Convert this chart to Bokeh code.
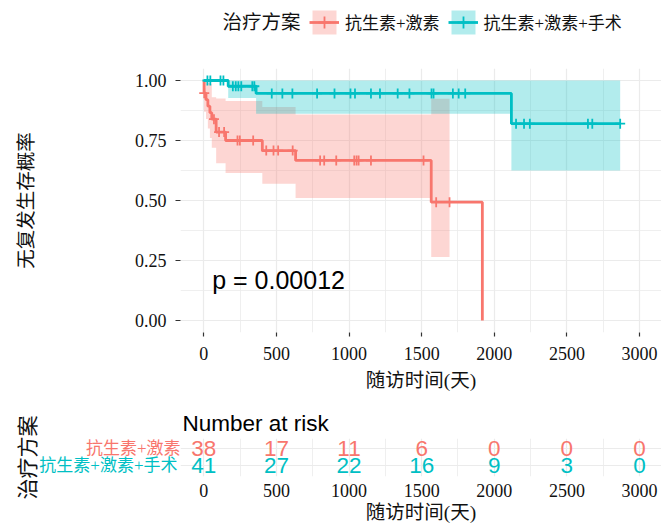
import numpy as np
from bokeh.plotting import figure
from bokeh.models import (Range1d, FixedTicker, Legend, LegendItem, Label, NumeralTickFormatter,
                          LinearAxis)
from bokeh.layouts import column
from bokeh.embed import file_html
from bokeh.resources import INLINE
from bokeh.core.properties import value

# ---------------- data ----------------
groups = ["抗生素+激素", "抗生素+激素+手术"]
group_colors = ["#F8766D", "#00BFC4"]
legend_title = "治疗方案"
y_title = "无复发生存概率"
x_title = "随访时间(天)"
pval_text = "p = 0.00012"

# group 1: 抗生素+激素 (KM steps)
g1_time = [0, 2, 15, 28, 42, 55, 85, 150, 403, 632, 1566, 1918]
g1_surv = [1.0, 0.947, 0.920, 0.893, 0.866, 0.839, 0.785, 0.750, 0.708, 0.667, 0.493, 0.0]
g1_ci_time = [0, 2, 15, 28, 42, 55, 85, 150, 403, 632, 1566]
g1_ci_lower = [1.0, 0.870, 0.840, 0.800, 0.760, 0.720, 0.655, 0.615, 0.570, 0.510, 0.265]
g1_ci_upper = [1.0, 1.0, 1.0, 0.990, 0.985, 0.930, 0.925, 0.915, 0.890, 0.858, 0.924]
g1_ci_end = 1692
g1_censor = [3, 70, 105, 140, 232, 248, 340, 430, 480, 512, 612, 801, 829, 912,
             1036, 1052, 1066, 1151, 1513, 1600, 1692]

# group 2: 抗生素+激素+手术
g2_time = [0, 168, 360, 2118]
g2_surv = [1.0, 0.976, 0.946, 0.820]
g2_ci_lower = [1.0, 0.927, 0.861, 0.625]
g2_ci_upper = [1.0, 1.0, 1.0, 1.0]
g2_end = 2867
g2_censor = [25, 45, 115, 135, 200, 220, 238, 258, 334, 348, 468, 541, 610, 780, 900,
             1010, 1041, 1151, 1213, 1335, 1416, 1568, 1582, 1715, 1755, 1800,
             2150, 2205, 2245, 2645, 2675, 2867]

# number at risk
risk_time = [0, 500, 1000, 1500, 2000, 2500, 3000]
g1_risk = [38, 17, 11, 6, 0, 0, 0]
g2_risk = [41, 27, 22, 16, 9, 3, 0]
risk_title = "Number at risk"

x_ticks = [0, 500, 1000, 1500, 2000, 2500, 3000]
x_minor = [250, 750, 1250, 1750, 2250, 2750]
y_ticks = [0.0, 0.25, 0.5, 0.75, 1.0]
y_minor = [0.125, 0.375, 0.625, 0.875]

# ---------------- styling ----------------
SERIF = "Liberation Serif, Noto Sans CJK SC"
SANS = "Liberation Sans"
GRID = "#EBEBEB"
TXT = "#111111"
W = 661
PX_PER_DAY = 0.14523
ZERO_PX = 203.3
PANEL_LEFT_PX = 180
X_END = (W - ZERO_PX) / PX_PER_DAY
X_PANEL_START = (PANEL_LEFT_PX - ZERO_PX) / PX_PER_DAY
LW = 2.8


def surv_at(times, survs, t):
    i = np.searchsorted(np.asarray(times), t, side="right") - 1
    return survs[i]


def style_grid(fig):
    for g in (fig.xgrid[0], fig.ygrid[0]):
        g.grid_line_color = GRID
        g.grid_line_width = 1.2
        g.minor_grid_line_color = GRID
        g.minor_grid_line_width = 0.8


def plain_axis(ax):
    ax.axis_line_color = None
    ax.major_tick_in = 0
    ax.minor_tick_in = 0
    ax.minor_tick_out = 0
    ax.major_label_text_color = TXT
    ax.axis_label_text_font = SERIF
    ax.axis_label_text_font_size = "19.5px"
    ax.axis_label_text_font_style = "normal"
    ax.axis_label_text_color = TXT


# ---------------- legend strip ----------------
lg = figure(width=W, height=46, output_backend="svg", toolbar_location=None,
            x_range=Range1d(PANEL_LEFT_PX, W), y_range=Range1d(0, 46),
            min_border_left=PANEL_LEFT_PX, min_border_right=0, min_border_top=0,
            min_border_bottom=0)
lg.xaxis.visible = False
lg.yaxis.visible = False
lg.xgrid.visible = False
lg.ygrid.visible = False
lg.outline_line_color = None
items = []
for name, col in zip(groups, group_colors):
    # key glyphs only (placed outside the visible range, shown through the legend)
    rb = lg.varea_step(x=[-50, -40], y1=[0, 0], y2=[1, 1], step_mode="after",
                       fill_color=col, fill_alpha=0.3)
    rl = lg.line(x=[-50, -40], y=[0, 0], line_color=col, line_width=LW)
    rc = lg.scatter(x=[-50], y=[0], marker="cross", size=10, line_color=col, line_width=1.8)
    items.append(LegendItem(label=name, renderers=[rb, rl, rc]))
legend = Legend(items=items, orientation="horizontal", location=(309 - PANEL_LEFT_PX, 9.5),
                glyph_width=30, glyph_height=30, label_height=30, label_standoff=6,
                spacing=8, padding=0, margin=0, border_line_color=None,
                background_fill_alpha=0, label_text_font=SERIF,
                label_text_font_size="17px", label_text_color=TXT)
lg.add_layout(legend)
lg.add_layout(Label(x=222, y=24, text=legend_title, text_font=SERIF, text_font_size="19.5px",
                    text_color=TXT, text_baseline="middle", text_align="left"))

# ---------------- survival plot ----------------
p = figure(width=W, height=352, output_backend="svg", toolbar_location=None,
           x_range=Range1d(X_PANEL_START, X_END), y_range=Range1d(-0.05, 1.05),
           min_border_left=PANEL_LEFT_PX, min_border_right=0, min_border_top=22,
           min_border_bottom=66)
p.outline_line_color = None

p.varea_step(x=g1_ci_time + [g1_ci_end], y1=g1_ci_lower + [g1_ci_lower[-1]],
             y2=g1_ci_upper + [g1_ci_upper[-1]], step_mode="after",
             fill_color=group_colors[0], fill_alpha=0.3)
p.varea_step(x=g2_time + [g2_end], y1=g2_ci_lower + [g2_ci_lower[-1]],
             y2=g2_ci_upper + [g2_ci_upper[-1]], step_mode="after",
             fill_color=group_colors[1], fill_alpha=0.3)
p.step(x=g1_time, y=g1_surv, mode="after", line_color=group_colors[0], line_width=LW)
p.step(x=g2_time + [g2_end], y=g2_surv + [g2_surv[-1]], mode="after",
       line_color=group_colors[1], line_width=LW)
p.scatter(x=g1_censor, y=[surv_at(g1_time, g1_surv, t) for t in g1_censor], marker="cross",
          size=10, line_color=group_colors[0], line_width=1.8)
p.scatter(x=g2_censor, y=[surv_at(g2_time, g2_surv, t) for t in g2_censor], marker="cross",
          size=10, line_color=group_colors[1], line_width=1.8)

for ax in (p.xaxis[0], p.yaxis[0]):
    plain_axis(ax)
    ax.major_tick_line_color = "#333333"
    ax.major_tick_line_width = 1.2
    ax.major_label_text_font = "Liberation Serif"
    ax.major_label_text_font_size = "18px"

p.xaxis.ticker = FixedTicker(ticks=x_ticks, minor_ticks=x_minor)
p.yaxis.ticker = FixedTicker(ticks=y_ticks, minor_ticks=y_minor)
p.yaxis.formatter = NumeralTickFormatter(format="0.00")
p.xaxis.axis_label = x_title
p.yaxis.axis_label = y_title
p.yaxis.major_tick_out = 5
p.yaxis.major_label_standoff = 9
p.yaxis.axis_label_standoff = 95
p.xaxis.major_tick_out = 4
p.xaxis.major_label_standoff = 10
p.xaxis.axis_label_standoff = 7
style_grid(p)

p.add_layout(Label(x=58, y=0.17, text=pval_text, text_font=SANS, text_font_size="25px",
                   text_color="black", text_baseline="alphabetic", text_align="left"))

# ---------------- risk table ----------------
r = figure(width=W, height=127, output_backend="svg", toolbar_location=None,
           x_range=Range1d(X_PANEL_START, X_END), y_range=Range1d(0.353, 2.588),
           min_border_left=PANEL_LEFT_PX, min_border_right=0, min_border_top=40,
           min_border_bottom=49, title=risk_title)
r.outline_line_color = None
r.title.text_font = SANS
r.title.text_font_size = "22.5px"
r.title.text_font_style = "normal"
r.title.text_color = "black"
r.title.align = "left"
r.title.offset = 2
r.title.standoff = 6

r.xaxis.ticker = FixedTicker(ticks=x_ticks, minor_ticks=x_minor)
axx = r.xaxis[0]
plain_axis(axx)
axx.major_tick_out = 0
axx.major_label_text_font = "Liberation Serif"
axx.major_label_text_font_size = "18px"
axx.axis_label = x_title
axx.major_label_standoff = 7
axx.axis_label_standoff = 2

# inner y axis: row label of group 1 (red)
ay1 = r.yaxis[0]
plain_axis(ay1)
ay1.ticker = FixedTicker(ticks=[1, 2])
ay1.major_label_overrides = {2: groups[0], 1: ""}
ay1.major_tick_out = 0
ay1.major_label_standoff = 0
ay1.major_label_text_font = SERIF
ay1.major_label_text_font_size = "17px"
ay1.major_label_text_color = group_colors[0]

# outer y axis: row label of group 2 (teal), pulled back to the same right edge
ay2 = LinearAxis(ticker=FixedTicker(ticks=[1]), major_label_overrides={1: groups[1]})
plain_axis(ay2)
ay2.major_tick_out = 0
ay2.major_tick_line_color = None
ay2.major_label_standoff = -95
ay2.major_label_text_font = SERIF
ay2.major_label_text_font_size = "17px"
ay2.major_label_text_color = group_colors[1]
ay2.axis_label = legend_title
ay2.axis_label_text_font_size = "21px"
ay2.axis_label_standoff = -4
r.add_layout(ay2, "left")

r.ygrid.ticker = FixedTicker(ticks=[1, 2])
style_grid(r)

r.text(x=risk_time, y=[2] * len(risk_time), text=[str(v) for v in g1_risk],
       text_color=group_colors[0], text_font=value(SANS), text_font_size="22.5px",
       text_align="center", text_baseline="middle")
r.text(x=risk_time, y=[1] * len(risk_time), text=[str(v) for v in g2_risk],
       text_color=group_colors[1], text_font=value(SANS), text_font_size="22.5px",
       text_align="center", text_baseline="middle")

layout = column(lg, p, r, spacing=0)
open("out.html", "w").write(file_html(layout, INLINE))
